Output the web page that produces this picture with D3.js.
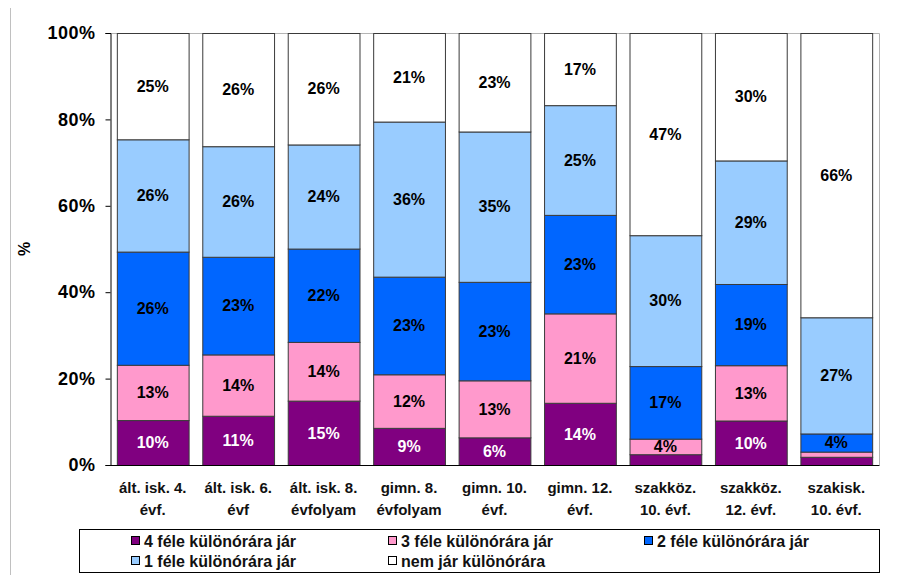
<!DOCTYPE html>
<html>
<head>
<meta charset="utf-8">
<script src="https://cdn.jsdelivr.net/npm/d3@7"></script>
<style>
  html, body { margin: 0; padding: 0; background: #fff; }
  svg { display: block; font-family: Arial, "Liberation Sans", sans-serif; }
</style>
</head>
<body>
<svg id="chart" width="911" height="575"></svg>
<script>
// Categories (two-line x labels)
const categories = [
  ["ált. isk. 4.", "évf."],
  ["ált. isk. 6.", "évf"],
  ["ált. isk. 8.", "évfolyam"],
  ["gimn. 8.", "évfolyam"],
  ["gimn. 10.", "évf."],
  ["gimn. 12.", "évf."],
  ["szakköz.", "10. évf."],
  ["szakköz.", "12. évf."],
  ["szakisk.", "10. évf."]
];

// Series names, bottom to top
const seriesNames = [
  "4 féle különórára jár",
  "3 féle különórára jár",
  "2 féle különórára jár",
  "1 féle különórára jár",
  "nem jár különórára"
];

// Percent shares per category
const negyFele    = [10.4, 11.4, 14.9,  8.6,  6.4, 14.4,  2.5, 10.3,  1.9];
const haromFele   = [12.8, 14.2, 13.6, 12.4, 13.2, 20.7,  3.6, 12.8,  1.2];
const ketFele     = [26.2, 22.6, 21.6, 22.6, 22.8, 22.8, 16.8, 18.8,  4.2];
const egyFele     = [26.0, 25.6, 24.1, 35.9, 34.8, 25.4, 30.3, 28.6, 26.9];
const nemJar      = [24.6, 26.2, 25.8, 20.5, 22.8, 16.7, 46.8, 29.5, 65.8];

const yTicks = [0, 20, 40, 60, 80, 100];

const colors = ["#800080", "#FF99CC", "#0066FF", "#99CCFF", "#FFFFFF"];
const labelColors = ["#FFFFFF", "#000000", "#000000", "#000000", "#000000"];

const seriesValues = [negyFele, haromFele, ketFele, egyFele, nemJar];
const keys = d3.range(seriesNames.length).map(String);
const rows = categories.map((c, i) => {
  const r = { idx: i };
  keys.forEach((k, j) => { r[k] = seriesValues[j][i]; });
  return r;
});

const svg = d3.select("#chart");

// Outer frame edge on the left
svg.append("line")
  .attr("x1", 10.5).attr("x2", 10.5).attr("y1", 8).attr("y2", 575)
  .attr("stroke", "#c0c0c0").attr("stroke-width", 1);

const plot = { left: 110, right: 879, top: 33, bottom: 465 };

const x = d3.scaleBand()
  .domain(d3.range(categories.length))
  .range([plot.left, plot.right])
  .paddingInner(0.16)
  .paddingOuter(0.08);

const y = d3.scaleLinear().domain([0, 100]).range([plot.bottom, plot.top]);

// Plot area border (top and right)
svg.append("path")
  .attr("d", `M${plot.left},${plot.top + 0.5}H${plot.right + 0.5}V${plot.bottom}`)
  .attr("fill", "none").attr("stroke", "#b4b4b4").attr("stroke-width", 1);

const stacked = d3.stack().keys(keys)(rows);

const layer = svg.append("g").selectAll("g")
  .data(stacked)
  .join("g")
  .attr("fill", (d, i) => colors[i]);

layer.selectAll("rect")
  .data(d => d)
  .join("rect")
  .attr("x", d => x(d.data.idx) + 0.5)
  .attr("y", d => y(d[1]) + 0.5)
  .attr("width", x.bandwidth())
  .attr("height", d => Math.max(0, y(d[0]) - y(d[1])))
  .attr("stroke", "#3a3a3a")
  .attr("stroke-width", 1);

// Value labels
stacked.forEach((s, si) => {
  svg.append("g").selectAll("text")
    .data(s.filter(d => (d[1] - d[0]) >= 3))
    .join("text")
    .attr("x", d => x(d.data.idx) + x.bandwidth() / 2)
    .attr("y", d => (y(d[0]) + y(d[1])) / 2)
    .attr("dy", "0.36em")
    .attr("text-anchor", "middle")
    .attr("font-size", 16)
    .attr("font-weight", "bold")
    .attr("fill", labelColors[si])
    .text(d => Math.round(d[1] - d[0]) + "%");
});

// Y axis
const yAxis = d3.axisLeft(y)
  .tickValues(yTicks)
  .tickFormat(d => d + "%")
  .tickSize(5)
  .tickPadding(10);

const yg = svg.append("g")
  .attr("transform", `translate(${plot.left + 0.5},0)`)
  .call(yAxis);
yg.select(".domain").attr("stroke", "#000");
yg.selectAll(".tick line").attr("stroke", "#000");
yg.selectAll(".tick text")
  .attr("font-size", 18)
  .attr("font-weight", "bold")
  .attr("font-family", "Arial, 'Liberation Sans', sans-serif")
  .attr("letter-spacing", "0.5px")
  .attr("fill", "#000");

// Baseline
svg.append("line")
  .attr("x1", plot.left).attr("x2", plot.right + 0.5)
  .attr("y1", plot.bottom + 0.5).attr("y2", plot.bottom + 0.5)
  .attr("stroke", "#000").attr("stroke-width", 1);

// Y title
svg.append("text")
  .attr("transform", `translate(30,${(plot.top + plot.bottom) / 2}) rotate(-90)`)
  .attr("text-anchor", "middle")
  .attr("font-size", 16)
  .attr("font-weight", "bold")
  .text("%");

// X labels
const xl = svg.append("g").selectAll("text")
  .data(categories)
  .join("text")
  .attr("text-anchor", "middle")
  .attr("font-size", 15)
  .attr("font-weight", "bold")
  .attr("fill", "#111");
xl.each(function (d, i) {
  const t = d3.select(this);
  d.forEach((line, li) => {
    t.append("tspan")
      .attr("x", x(i) + x.bandwidth() / 2)
      .attr("y", 493 + li * 22)
      .text(line);
  });
});

// Legend
const legend = svg.append("g");
legend.append("rect")
  .attr("x", 79.5).attr("y", 529.5).attr("width", 800).attr("height", 43)
  .attr("fill", "#fff").attr("stroke", "#000").attr("stroke-width", 1);

const legendPos = [
  [131, 541], [388, 541], [644, 541],
  [131, 561], [388, 561]
];
seriesNames.forEach((name, i) => {
  const [lx, ly] = legendPos[i];
  legend.append("rect")
    .attr("x", lx + 0.5).attr("y", ly - 4.5).attr("width", 8).attr("height", 8)
    .attr("fill", colors[i]).attr("stroke", "#000").attr("stroke-width", 1);
  legend.append("text")
    .attr("x", lx + 13).attr("y", ly)
    .attr("dy", "0.36em")
    .attr("font-size", 16)
    .attr("font-weight", "bold")
    .attr("fill", "#111")
    .text(name);
});
</script>
</body>
</html>
